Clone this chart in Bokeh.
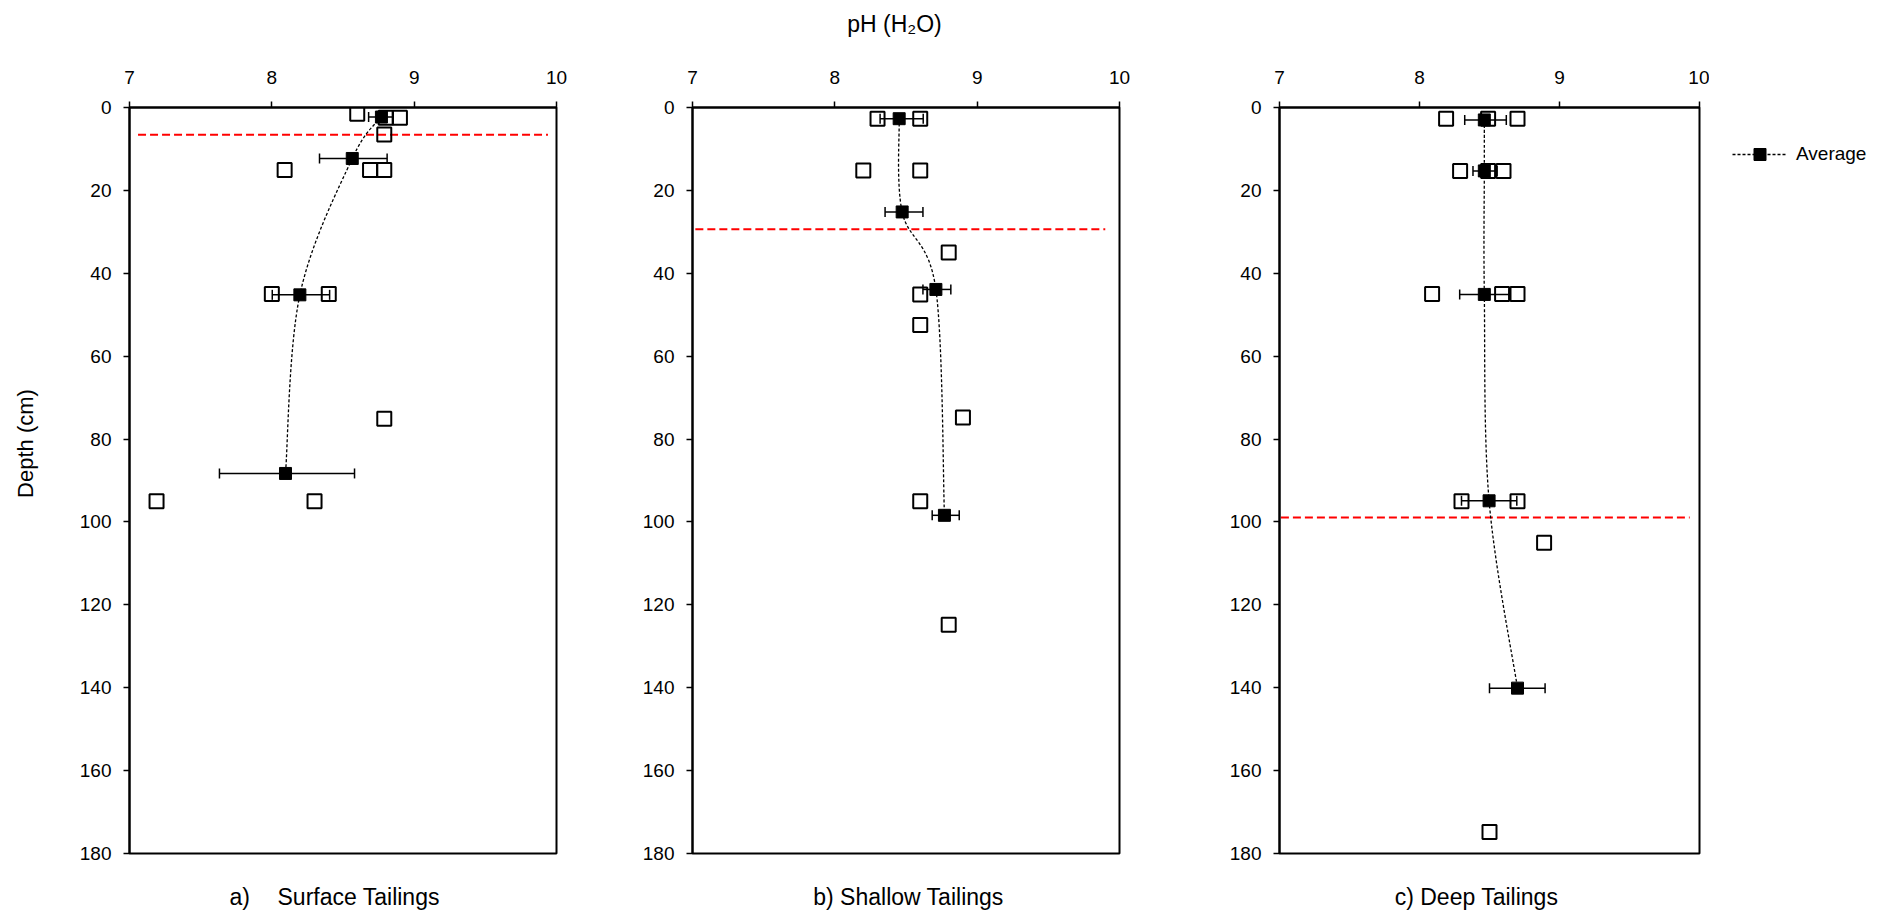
import math
from bokeh.plotting import figure
from bokeh.models import (Range1d, FixedTicker, Whisker, TeeHead, ColumnDataSource,
                          Label, Legend, LegendItem)
from bokeh.layouts import row, column
from bokeh.embed import file_html
from bokeh.resources import INLINE

FONT = "Liberation Sans"

# ---------------- data ----------------
# a) Surface tailings
a_ph = [8.60, 8.80, 8.90, 8.79, 8.09, 8.69, 8.79, 8.00, 8.40, 8.79, 7.19, 8.30]
a_depth = [1.5, 2.5, 2.5, 6.5, 15.1, 15.1, 15.1, 45.0, 45.0, 75.1, 95.0, 95.0]
a_avg_ph = [8.77, 8.565, 8.197, 8.096]
a_avg_depth = [2.3, 12.3, 45.2, 88.3]
a_err_lo = [8.68, 8.335, 8.003, 7.632]
a_err_hi = [8.853, 8.81, 8.406, 8.581]
a_boundary = 6.6
a_boundary_x = [7.06, 9.94]

# b) Shallow tailings
b_ph = [8.30, 8.60, 8.20, 8.60, 8.80, 8.60, 8.60, 8.90, 8.60, 8.80]
b_depth = [2.7, 2.7, 15.2, 15.2, 35.0, 45.1, 52.5, 74.8, 95.0, 124.8]
b_avg_ph = [8.452, 8.473, 8.71, 8.77]
b_avg_depth = [2.7, 25.2, 43.9, 98.4]
b_err_lo = [8.318, 8.353, 8.619, 8.684]
b_err_hi = [8.621, 8.619, 8.815, 8.874]
b_boundary = 29.4
b_boundary_x = [7.02, 9.90]

# c) Deep tailings
c_ph = [8.19, 8.49, 8.70, 8.29, 8.49, 8.60, 8.09, 8.59, 8.70, 8.30, 8.70, 8.89, 8.50]
c_depth = [2.7, 2.7, 2.7, 15.3, 15.3, 15.3, 45.0, 45.0, 45.0, 95.0, 95.0, 105.0, 174.8]
c_avg_ph = [8.463, 8.463, 8.463, 8.497, 8.70]
c_avg_depth = [3.0, 15.3, 45.1, 94.9, 140.1]
c_err_lo = [8.323, 8.382, 8.287, 8.30, 8.50]
c_err_hi = [8.62, 8.554, 8.64, 8.695, 8.897]
c_boundary = 98.9
c_boundary_x = [7.01, 9.93]

x_ticks = [7, 8, 9, 10]
y_ticks = [0, 20, 40, 60, 80, 100, 120, 140, 160, 180]
x_title = "pH (H₂O)"
y_title = "Depth (cm)"
caption_a = ["a)", "Surface Tailings"]
caption_b = "b) Shallow Tailings"
caption_c = "c) Deep Tailings"
legend_label = "Average"

TOTAL_W = 1885
TITLE_H = 40
MAIN_H = 830
CAP_H = 41
MBT = 67   # frame top at 107
MBB = 17   # frame bottom at 853


def smooth_segments(xs, ys):
    """Bezier control points (Excel-style smoothed line) through the given points."""
    n = len(xs)
    segs = dict(x0=[], y0=[], x1=[], y1=[], cx0=[], cy0=[], cx1=[], cy1=[])
    for i in range(n - 1):
        im1 = max(i - 1, 0)
        ip2 = min(i + 2, n - 1)
        segs["x0"].append(xs[i]); segs["y0"].append(ys[i])
        segs["x1"].append(xs[i + 1]); segs["y1"].append(ys[i + 1])
        segs["cx0"].append(xs[i] + (xs[i + 1] - xs[im1]) / 6.0)
        segs["cy0"].append(ys[i] + (ys[i + 1] - ys[im1]) / 6.0)
        segs["cx1"].append(xs[i + 1] - (xs[ip2] - xs[i]) / 6.0)
        segs["cy1"].append(ys[i + 1] - (ys[ip2] - ys[i]) / 6.0)
    return segs


def make_panel(width, mbl, mbr, ph, depth, avg_ph, avg_depth, lo, hi,
               boundary, boundary_x):
    p = figure(width=width, height=MAIN_H, x_range=Range1d(7, 10), y_range=Range1d(180, 0),
               x_axis_location="above", toolbar_location=None, output_backend="svg",
               min_border_left=mbl, min_border_right=mbr, min_border_top=MBT,
               min_border_bottom=MBB)
    p.grid.visible = False
    p.outline_line_color = "black"
    p.outline_line_width = 2
    for ax in (p.xaxis[0], p.yaxis[0]):
        ax.axis_line_width = 2
        ax.axis_line_color = "black"
        ax.major_tick_line_width = 1.5
        ax.major_tick_line_color = "black"
        ax.major_tick_in = 0
        ax.major_tick_out = 6
        ax.minor_tick_line_color = None
        ax.major_label_text_font = FONT
        ax.major_label_text_font_size = "19px"
        ax.major_label_text_color = "black"
    p.xaxis[0].ticker = FixedTicker(ticks=x_ticks)
    p.yaxis[0].ticker = FixedTicker(ticks=y_ticks)
    p.xaxis[0].major_label_standoff = 18
    p.yaxis[0].major_label_standoff = 12

    # boundary (red dashed)
    p.segment(x0=[boundary_x[0]], y0=[boundary], x1=[boundary_x[1]], y1=[boundary],
              line_color="#FF0000", line_width=2, line_dash="8 4")
    # smoothed average line
    segs = smooth_segments(avg_ph, avg_depth)
    p.bezier(source=ColumnDataSource(segs), x0="x0", y0="y0", x1="x1", y1="y1",
             cx0="cx0", cy0="cy0", cx1="cx1", cy1="cy1",
             line_color="black", line_width=1.3, line_dash="3 2")
    # individual samples
    p.scatter(ph, depth, marker="square", size=14, fill_color=None,
              line_color="black", line_width=2)
    # error bars
    src = ColumnDataSource(dict(y=avg_depth, lo=lo, hi=hi))
    w = Whisker(source=src, base="y", lower="lo", upper="hi", dimension="width",
                line_color="black", line_width=1.5,
                lower_head=TeeHead(size=10, line_width=1.5, line_color="black"),
                upper_head=TeeHead(size=10, line_width=1.5, line_color="black"))
    p.add_layout(w)
    # averages
    p.scatter(avg_ph, avg_depth, marker="square", size=12, fill_color="black",
              line_color="black", line_width=1)
    return p


# columns: ylabel strip 0-40 | a 40-596 | b 596-1159 | c 1159-1709 | legend 1709-1885
pa = make_panel(556, 89, 40, a_ph, a_depth, a_avg_ph, a_avg_depth,
                a_err_lo, a_err_hi, a_boundary, a_boundary_x)
pb = make_panel(563, 96, 40, b_ph, b_depth, b_avg_ph, b_avg_depth,
                b_err_lo, b_err_hi, b_boundary, b_boundary_x)
pc = make_panel(550, 120, 10, c_ph, c_depth, c_avg_ph, c_avg_depth,
                c_err_lo, c_err_hi, c_boundary, c_boundary_x)


def text_fig(width, height, mbt=0, mbb=0, yspan=None):
    yspan = height if yspan is None else yspan
    f = figure(width=width, height=height, toolbar_location=None, output_backend="svg",
               min_border_left=0, min_border_right=0, min_border_top=mbt,
               min_border_bottom=mbb, x_axis_type=None, y_axis_type=None,
               x_range=Range1d(0, width), y_range=Range1d(yspan, 0))
    f.grid.visible = False
    f.outline_line_color = None
    return f


def lab(p, x, y, text, size, align="center", angle=0.0):
    p.add_layout(Label(x=x, y=y, text=text, text_font=FONT, text_font_size=size,
                       text_align=align, text_baseline="middle", angle=angle,
                       text_color="black"))


# title strip (page y 0-40)
ptitle = text_fig(TOTAL_W, TITLE_H)
lab(ptitle, 894, 23, x_title, "23px")

# y-axis label strip (its frame spans page y 107-853)
FRAME_H = MAIN_H - MBT - MBB
pylab = text_fig(40, MAIN_H, mbt=MBT, mbb=MBB, yspan=FRAME_H)
lab(pylab, 25, 443 - 107, y_title, "22px", angle=math.pi / 2)

# caption strip (page y 870-911)
pcap = text_fig(TOTAL_W, CAP_H)
lab(pcap, 229, 26, caption_a[0], "23px", align="left")
lab(pcap, 277, 26, caption_a[1], "23px", align="left")
lab(pcap, 908, 26, caption_b, "23px")
lab(pcap, 1476, 26, caption_c, "23px")

# legend panel
pl = figure(width=176, height=MAIN_H, toolbar_location=None, output_backend="svg",
            min_border_left=0, min_border_right=0, min_border_top=MBT, min_border_bottom=MBB,
            x_axis_type=None, y_axis_type=None, x_range=Range1d(0, 1), y_range=Range1d(0, 1))
pl.grid.visible = False
pl.outline_line_color = None
# renderers only used for the legend sample (their data lies outside this panel's ranges)
r_line = pl.line(x=c_avg_ph, y=c_avg_depth, line_color="black", line_width=1.3,
                 line_dash="3 2")
r_sq = pl.scatter(x=c_avg_ph, y=c_avg_depth, marker="square", size=12,
                  fill_color="black", line_color="black")
leg = Legend(items=[LegendItem(label=legend_label, renderers=[r_line, r_sq])],
             location=(23, FRAME_H - 62), margin=0, padding=0, glyph_width=55,
             glyph_height=30, label_height=30, label_standoff=9, border_line_color=None,
             background_fill_alpha=0, label_text_font=FONT, label_text_font_size="19px",
             label_text_color="black")
pl.add_layout(leg)

layout = column(ptitle, row(pylab, pa, pb, pc, pl, spacing=0), pcap, spacing=0)
open("out.html", "w").write(file_html(layout, INLINE))
